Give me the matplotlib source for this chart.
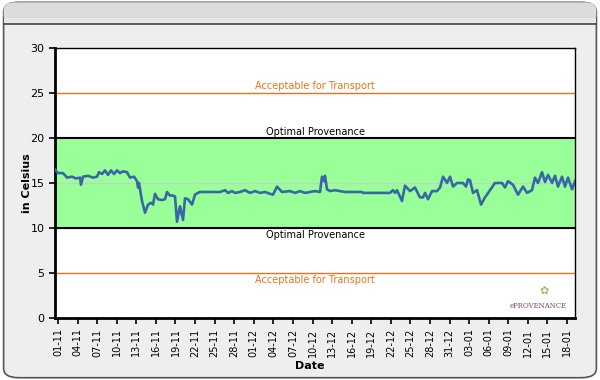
import numpy as np
import matplotlib
matplotlib.use("Agg")
import matplotlib.pyplot as plt
from matplotlib.patches import FancyBboxPatch, Rectangle

plt.rcParams['font.family'] = ['DejaVu Sans']

# 溫度資料 (天數偏移, 自 01-11 起算)
days = [-0.46, 0.0, 0.77, 1.38, 2.15, 2.76, 3.37, 3.52, 3.83, 4.60, 5.36, 5.98,
        6.28, 6.74, 7.20, 7.66, 8.12, 8.58, 9.04, 9.50, 9.96, 10.57, 11.03, 11.65,
        12.11, 12.26, 12.41, 12.87, 13.33, 13.79, 14.25, 14.56, 14.86, 15.32, 15.94,
        16.40, 16.70, 17.16, 17.62, 17.93, 18.23, 18.69, 19.15, 19.46, 19.92, 20.53,
        20.99, 21.45, 21.76, 23.29, 24.82, 25.59, 26.05, 26.66, 27.12, 27.89, 28.65,
        29.42, 30.19, 30.95, 31.72, 32.49, 32.95, 33.56, 34.32, 35.55, 36.32, 37.08,
        37.85, 38.61, 39.38, 40.15, 40.45, 40.76, 40.91, 41.22, 41.68, 42.45, 43.21,
        43.98, 46.58, 46.74, 50.87, 51.33, 51.64, 51.95, 52.71, 53.17, 53.94, 54.70,
        55.47, 55.93, 56.24, 56.70, 57.31, 58.08, 58.54, 59.00, 59.61, 60.07, 60.53,
        61.14, 62.06, 62.52, 62.83, 63.13, 63.59, 64.21, 64.82, 65.43, 66.20, 66.96,
        68.04, 68.50, 68.96, 69.72, 70.49, 71.26, 71.87, 72.63, 73.09, 73.55, 74.17,
        74.63, 75.09, 75.70, 76.16, 76.62, 77.23, 77.69, 78.15, 78.77, 79.22]
temps = [16.5, 16.1, 16.1, 15.6, 15.7, 15.5, 15.6, 14.8, 15.7, 15.8, 15.6, 15.7,
         16.2, 16.0, 16.4, 15.9, 16.4, 16.0, 16.4, 16.1, 16.3, 16.2, 15.6, 15.7,
         15.2, 14.5, 15.0, 13.0, 11.7, 12.6, 12.8, 12.6, 13.8, 13.2, 13.1,
         13.2, 14.0, 13.6, 13.6, 13.5, 10.7, 12.4, 10.9, 13.3, 13.2, 12.6,
         13.7, 13.9, 14.0, 14.0, 14.0, 14.2, 13.9, 14.1, 13.9, 14.0, 14.2,
         13.9, 14.1, 13.9, 14.0, 13.8, 13.7, 14.6, 14.0, 14.1, 13.9, 14.1,
         13.9, 14.0, 14.1, 14.0, 15.7, 15.2, 15.8, 14.3, 14.1, 14.2, 14.1,
         14.0, 14.0, 13.9, 13.9, 14.2, 13.9, 14.2, 13.0, 14.7, 14.1, 14.5,
         13.4, 13.4, 13.9, 13.2, 14.1, 14.1, 14.5, 15.7, 15.0, 15.7, 14.6,
         15.0, 15.0, 14.6, 15.4, 15.3, 13.9, 14.2, 12.6, 13.4, 14.2, 15.0,
         15.0, 14.5, 15.2, 14.8, 13.7, 14.6, 13.9, 14.2, 15.6, 15.0, 16.2,
         15.1, 15.9, 15.0, 15.8, 14.6, 15.7, 14.6, 15.6, 14.3, 15.2]

tick_labels = ['01-11', '04-11', '07-11', '10-11', '13-11', '16-11', '19-11', '22-11',
               '25-11', '28-11', '01-12', '04-12', '07-12', '10-12', '13-12', '16-12',
               '19-12', '22-12', '25-12', '28-12', '31-12', '03-01', '06-01', '09-01',
               '12-01', '15-01', '18-01']

optimal_range = (10, 20)
transport_range = (5, 25)

fig = plt.figure(figsize=(6, 3.8), dpi=100)
fig.patch.set_facecolor('white')

# 外框與標題列
frame = FancyBboxPatch((0.006, 0.006), 0.988, 0.988, boxstyle="round,pad=0,rounding_size=0.025",
                       transform=fig.transFigure, facecolor='#eeeeee', edgecolor='#555555',
                       linewidth=1.2, zorder=-3)
fig.patches.append(frame)
bar = FancyBboxPatch((0.006, 0.94), 0.988, 0.054, boxstyle="round,pad=0,rounding_size=0.02",
                     transform=fig.transFigure, facecolor='#dcdcdc', edgecolor='none', zorder=-2)
fig.patches.append(bar)
fig.patches.append(Rectangle((0.006, 0.94), 0.988, 0.012, transform=fig.transFigure,
                             facecolor='#e6e6e6', edgecolor='none', zorder=-1.5))
fig.lines.append(plt.Line2D([0.006, 0.994], [0.938, 0.938], transform=fig.transFigure,
                            color='#444444', linewidth=1.2, zorder=-1))

ax = fig.add_axes([0.0917, 0.1632, 0.8666, 0.7105])
ax.set_zorder(2)
ax.set_facecolor('white')
ax.set_xlim(-0.46, 79.22)
ax.set_ylim(0, 30)

ax.axhspan(optimal_range[0], optimal_range[1], color='#99ff99', zorder=1)
ax.axhline(15, color='#cccccc', linewidth=0.8, zorder=1.5)
for v in optimal_range:
    ax.axhline(v, color='black', linewidth=1.5, zorder=2)
for v in transport_range:
    ax.axhline(v, color='#e8731c', linewidth=1.0, zorder=2)

ax.plot(days, temps, color='#3a66a8', linewidth=1.9, zorder=3)

xc = 39.4
ax.text(xc, 25.2, 'Acceptable for Transport', color='#e8731c', fontsize=7, ha='center', va='bottom')
ax.text(xc, 20.1, 'Optimal Provenance', color='black', fontsize=7, ha='center', va='bottom')
ax.text(xc, 9.8, 'Optimal Provenance', color='black', fontsize=7, ha='center', va='top')
ax.text(xc, 4.8, 'Acceptable for Transport', color='#e8731c', fontsize=7, ha='center', va='top')

# 商標
ax.text(0.985, 0.03, 'ePROVENANCE', transform=ax.transAxes, color='#7a4a5c', fontsize=5,
        family='DejaVu Serif', ha='right', va='bottom')
ax.text(0.94, 0.08, '✿', transform=ax.transAxes, color='#8ab04a', fontsize=8,
        family='DejaVu Sans', ha='center', va='bottom', alpha=0.8)

ax.set_yticks(np.arange(0, 31, 5))
ax.set_xticks(np.arange(0, 3 * len(tick_labels), 3))
ax.set_xticklabels(tick_labels, rotation=90, fontsize=7)
ax.tick_params(axis='y', labelsize=8, length=4, width=1.2, direction='out')
ax.tick_params(axis='x', length=4, width=1.2, direction='out')

for side in ['left', 'bottom']:
    ax.spines[side].set_linewidth(2)
for side in ['top', 'right']:
    ax.spines[side].set_linewidth(1)

ax.set_ylabel('in Celsius', fontsize=8, fontweight='bold')
ax.yaxis.set_label_coords(-0.045, 0.5)
ax.set_xlabel('Date', fontsize=8, fontweight='bold')
ax.xaxis.set_label_coords(0.49, -0.16)

fig.savefig('out.png', dpi=100, facecolor=fig.get_facecolor())
